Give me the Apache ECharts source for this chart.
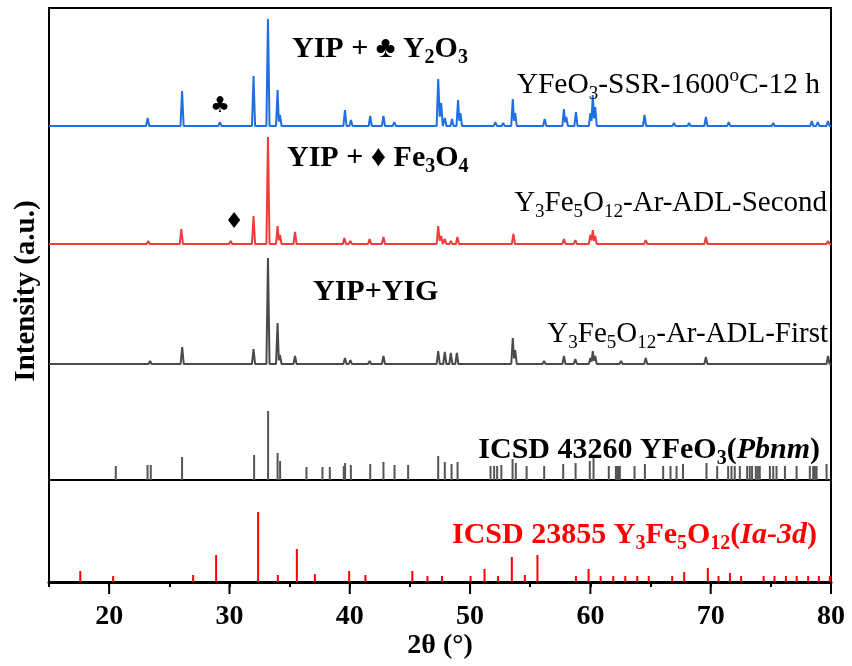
<!DOCTYPE html>
<html><head><meta charset="utf-8">
<script src="https://cdn.jsdelivr.net/npm/echarts@6/dist/echarts.min.js"></script>
<style>html,body{margin:0;padding:0;background:#fff}#c{width:852px;height:666px}</style>
</head><body><div id="c"></div>
<script>
// ---- data (2θ in degrees, intensity in arbitrary units) ----
const xMajorTicks = [20, 30, 40, 50, 60, 70, 80];
const bluePeaks = [[20.55,2],[23.2,8],[26.06,35],[29.2,4],[32.0,50],[33.2,107],[34.0,36],[34.2,11],[37.7,2],[38.3,2],[39.6,16],[40.1,6],[41.7,10],[42.8,10],[43.7,4],[44.85,2],[47.35,47],[47.6,23],[47.9,8],[48.5,7],[49.0,26],[49.2,13],[52.1,4],[52.75,3],[53.55,27],[53.75,13],[56.2,7],[57.8,17],[58.0,9],[58.8,14],[60.0,13],[60.2,31],[60.4,19],[64.5,11],[66.95,3],[68.2,3],[69.6,9],[71.5,4],[75.2,3],[78.4,5],[78.9,4],[79.75,5]];
const redPeaks = [[23.25,3],[26.0,15],[30.1,3],[32.0,28],[33.2,107],[34.0,18],[34.2,9],[35.45,12],[39.55,6],[40.05,3],[41.65,5],[42.8,7],[47.35,18],[47.6,8],[47.9,5],[48.4,3],[48.95,7],[53.6,10],[56.9,2],[57.8,5],[58.75,4],[60.0,9],[60.2,14],[60.4,8],[62.55,2],[64.6,4],[68.3,2],[69.6,7],[79.75,3]];
const grayPeaks = [[23.4,3],[26.07,17],[30.1,2],[32.0,15],[33.2,106],[34.0,41],[34.2,9],[35.45,8],[39.6,6],[40.05,4],[41.65,3],[42.8,8],[47.35,13],[47.9,12],[48.4,11],[48.9,11],[53.55,26],[53.75,14],[56.15,3],[57.8,8],[58.75,5],[60.0,6],[60.2,13],[60.4,8],[62.55,3],[64.6,6],[69.6,7],[79.75,8]];
const yfeo3Sticks = [[20.55,14],[23.19,15],[23.46,15],[26.06,23],[32.05,25],[33.21,69],[34.0,27],[34.21,19],[36.4,13],[37.73,13],[38.34,13],[39.5,14],[39.61,17],[40.09,15],[41.7,16],[42.8,18],[43.72,15],[44.85,15],[47.35,24],[47.9,18],[48.46,16],[48.96,18],[51.7,14],[52.0,14],[52.25,14],[52.6,15],[53.53,21],[53.8,17],[54.7,14],[56.16,14],[57.74,16],[58.77,17],[59.95,19],[60.26,24],[61.53,14],[62.12,14],[62.23,14],[62.34,14],[62.45,14],[63.67,14],[64.53,16],[66.05,14],[66.66,14],[67.16,14],[67.7,16],[69.65,17],[70.54,14],[71.45,14],[71.73,14],[72.0,14],[72.42,14],[73.03,14],[73.25,14],[73.44,14],[73.75,14],[73.92,14],[74.08,14],[74.92,14],[75.2,14],[75.47,14],[76.17,14],[77.14,14],[78.24,14],[78.52,14],[78.66,14],[78.8,14],[79.63,16]];
const yigSticks = [[17.6,11],[20.33,6],[26.98,7],[28.89,27],[32.38,70],[34.02,7],[35.6,33],[37.1,8],[39.95,11],[41.3,7],[45.2,11],[46.46,6],[47.67,6],[50.04,6],[51.2,13],[52.33,6],[53.47,25],[54.55,7],[55.6,27],[58.8,6],[59.85,13],[60.85,6],[61.9,6],[62.9,6],[63.9,6],[64.85,6],[66.8,6],[67.8,10],[69.76,14],[70.65,6],[71.6,9],[72.53,6],[74.4,6],[75.3,6],[76.25,6],[77.15,6],[78.1,6],[78.99,6],[79.9,6]];

// ---- layout / style ----
const OFF_BLUE = 354, OFF_RED = 236, OFF_GRAY = 116;
const W = 0.13;
const FONT = '"Liberation Serif", "Times New Roman", serif';

function profile(peaks, base) {
  const ps = peaks.slice().sort((a, b) => a[0] - b[0]);
  const pts = [[15, base]];
  for (let i = 0; i < ps.length; i++) {
    const [p, h] = ps[i], prev = ps[i - 1], next = ps[i + 1];
    if (!prev || p - prev[0] >= 2 * W) pts.push([p - W, base]);
    pts.push([p, base + h]);
    if (!next || next[0] - p >= 2 * W) pts.push([p + W, base]);
    else pts.push([(p + next[0]) / 2, base + Math.min(h, next[1]) * 0.4]);
  }
  pts.push([80, base]);
  return pts;
}

function sticks(data, xi, yi, color, lw) {
  return {
    type: 'custom', xAxisIndex: xi, yAxisIndex: yi, data: data, silent: true,
    renderItem: function (params, api) {
      const x = api.value(0), h = api.value(1);
      const p0 = api.coord([x, 0]), p1 = api.coord([x, h]);
      return { type: 'line', shape: { x1: p0[0], y1: p0[1], x2: p1[0], y2: p1[1] },
               style: { stroke: color, lineWidth: lw } };
    }
  };
}

// long major ticks below the bottom axis, placed through the axis scale
const majorTickSeries = {
  type: 'custom', xAxisIndex: 1, yAxisIndex: 1, clip: false, silent: true, z: 10,
  data: xMajorTicks.map(v => [v, 0]),
  renderItem: function (params, api) {
    const p = api.coord([api.value(0), 0]);
    return { type: 'line', shape: { x1: p[0], y1: p[1], x2: p[0], y2: p[1] + 12 },
             style: { stroke: '#000', lineWidth: 2 } };
  }
};

const ctx = document.createElement('canvas').getContext('2d');
function fontStr(k, weight, size) {
  return (k === 'i' ? 'italic ' : '') + weight + ' ' + size + 'px ' + FONT;
}
function richText(o) {
  const items = o.parts.map(([t, k]) => {
    const size = (k === 'sub' || k === 'sup') ? Math.round(o.size * 0.66) : o.size;
    const font = fontStr(k, o.weight, size);
    ctx.font = font;
    return { t, k, font, w: ctx.measureText(t).width };
  });
  const total = items.reduce((s, it) => s + it.w, 0);
  let x = o.align === 'right' ? o.x - total : o.x;
  const els = [];
  items.forEach(it => {
    const dy = it.k === 'sub' ? o.size * 0.30 : (it.k === 'sup' ? -o.size * 0.30 : 0);
    els.push({ type: 'text', z: 100, style: { text: it.t, x: x, y: o.y + dy, font: it.font,
      fill: o.color || '#000', align: 'left', verticalAlign: 'middle' } });
    x += it.w;
  });
  return els;
}

const labels = [
  { x: 292, y: 49, align: 'left', size: 30, weight: 'bold', parts: [['YIP + ♣ Y', 'n'], ['2', 'sub'], ['O', 'n'], ['3', 'sub']] },
  { x: 820, y: 85, align: 'right', size: 29.5, weight: 'normal', parts: [['YFeO', 'n'], ['3', 'sub'], ['-SSR-1600', 'n'], ['o', 'sup'], ['C-12 h', 'n']] },
  { x: 287, y: 158, align: 'left', size: 30, weight: 'bold', parts: [['YIP + ♦ Fe', 'n'], ['3', 'sub'], ['O', 'n'], ['4', 'sub']] },
  { x: 827, y: 203, align: 'right', size: 29, weight: 'normal', parts: [['Y', 'n'], ['3', 'sub'], ['Fe', 'n'], ['5', 'sub'], ['O', 'n'], ['12', 'sub'], ['-Ar-ADL-Second', 'n']] },
  { x: 313, y: 292, align: 'left', size: 30, weight: 'bold', parts: [['YIP+YIG', 'n']] },
  { x: 828, y: 334, align: 'right', size: 29, weight: 'normal', parts: [['Y', 'n'], ['3', 'sub'], ['Fe', 'n'], ['5', 'sub'], ['O', 'n'], ['12', 'sub'], ['-Ar-ADL-First', 'n']] },
  { x: 820, y: 450, align: 'right', size: 30, weight: 'bold', parts: [['ICSD 43260 YFeO', 'n'], ['3', 'sub'], ['(', 'n'], ['Pbnm', 'i'], [')', 'n']] },
  { x: 817, y: 535, align: 'right', size: 30, weight: 'bold', color: '#ff0000', parts: [['ICSD 23855 Y', 'n'], ['3', 'sub'], ['Fe', 'n'], ['5', 'sub'], ['O', 'n'], ['12', 'sub'], ['(', 'n'], ['Ia-3d', 'i'], [')', 'n']] }
];

let graphics = [];
labels.forEach(l => { graphics = graphics.concat(richText(l)); });
graphics.push({ type: 'text', z: 100, style: { text: '♣', x: 220, y: 106, font: 'bold 22px "DejaVu Sans"', fill: '#000', align: 'center', verticalAlign: 'middle' } });
graphics.push({ type: 'text', z: 100, style: { text: '♦', x: 234, y: 222, font: 'bold 22px "DejaVu Sans"', fill: '#000', align: 'center', verticalAlign: 'middle' } });
graphics.push({ type: 'text', z: 100, x: 27, y: 291, rotation: Math.PI / 2,
  style: { text: 'Intensity (a.u.)', x: 0, y: 0, font: 'bold 29px ' + FONT, fill: '#000', align: 'center', verticalAlign: 'middle' } });

const chart = echarts.init(document.getElementById('c'), null, { renderer: 'canvas' });
chart.setOption({
  animation: false,
  backgroundColor: '#fff',
  grid: [
    { left: 49, right: 21, top: 8, height: 472, show: true, borderColor: '#000', borderWidth: 2, backgroundColor: 'transparent' },
    { left: 49, right: 21, top: 480, height: 102, show: true, borderColor: '#000', borderWidth: 2, backgroundColor: 'transparent' }
  ],
  xAxis: [
    { type: 'value', gridIndex: 0, min: 15, max: 80, show: false },
    { type: 'value', gridIndex: 1, position: 'bottom', offset: 0, min: 15, max: 80, interval: 5,
      axisLine: { show: true, onZero: false, lineStyle: { color: '#000', width: 3 } },
      axisTick: { show: true, inside: false, length: 5, lineStyle: { color: '#000', width: 2 } },
      axisLabel: { show: false }, splitLine: { show: false } },
    { type: 'value', gridIndex: 1, position: 'bottom', offset: 0, min: 15, max: 80, interval: 5,
      axisLine: { show: false, onZero: false },
      axisTick: { show: false },
      axisLabel: { show: true, inside: false, customValues: xMajorTicks, margin: 21, color: '#000', fontFamily: FONT, fontWeight: 'bold', fontSize: 28 },
      splitLine: { show: false },
      name: '2θ (°)', nameLocation: 'middle', nameGap: 48,
      nameTextStyle: { color: '#000', fontFamily: FONT, fontWeight: 'bold', fontSize: 28 } }
  ],
  yAxis: [
    { type: 'value', gridIndex: 0, min: 0, max: 472, show: false },
    { type: 'value', gridIndex: 1, min: 0, max: 102, show: false }
  ],
  series: [
    { type: 'line', xAxisIndex: 0, yAxisIndex: 0, data: profile(bluePeaks, OFF_BLUE), showSymbol: false, silent: true,
      lineStyle: { color: '#1f6fe0', width: 2 } },
    { type: 'line', xAxisIndex: 0, yAxisIndex: 0, data: profile(redPeaks, OFF_RED), showSymbol: false, silent: true,
      lineStyle: { color: '#f23b3b', width: 2 } },
    { type: 'line', xAxisIndex: 0, yAxisIndex: 0, data: profile(grayPeaks, OFF_GRAY), showSymbol: false, silent: true,
      lineStyle: { color: '#4a4a4a', width: 2 } },
    sticks(yfeo3Sticks, 0, 0, '#555555', 2),
    sticks(yigSticks, 1, 1, '#ff0000', 2),
    majorTickSeries
  ],
  graphic: graphics
});
</script>
</body></html>
